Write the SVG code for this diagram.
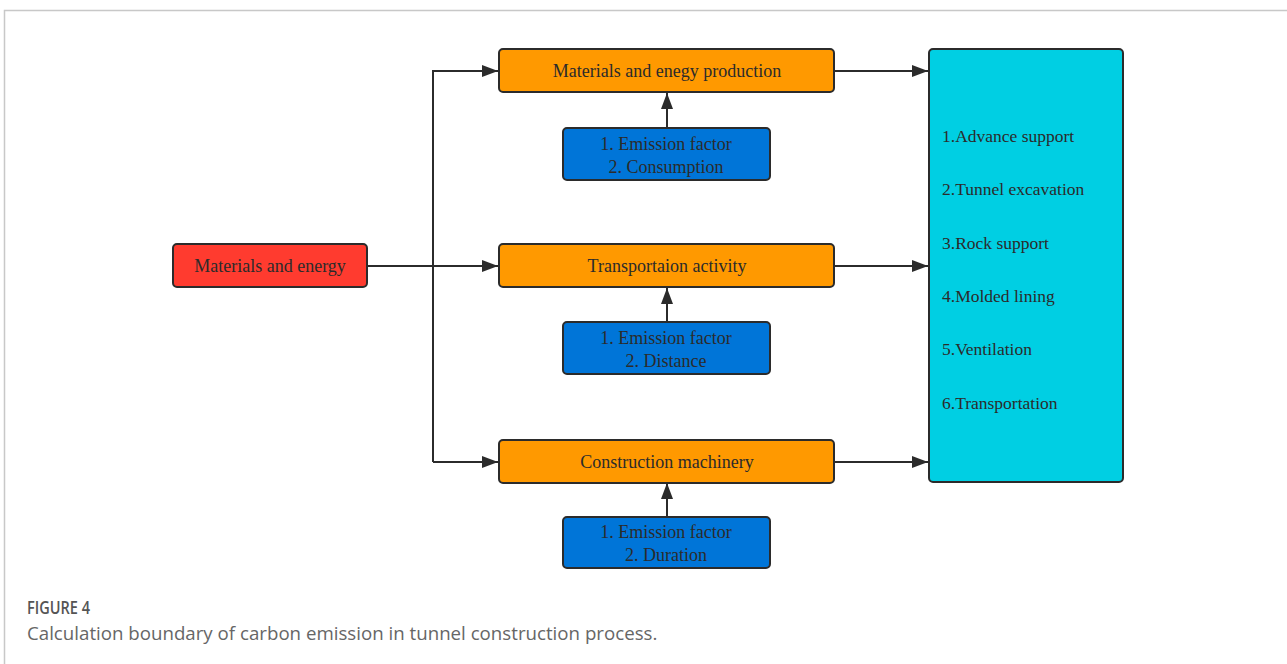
<svg xmlns="http://www.w3.org/2000/svg" width="1287" height="664" viewBox="0 0 1287 664">
<style>
.box{stroke:#2b2b2b;stroke-width:2}
.or{fill:#FF9900}
.bl{fill:#0075D8}
.rd{fill:#FF3B2F}
.cy{fill:#00CFE3}
.t{font-family:"Liberation Serif","Times New Roman",serif;font-size:18px;fill:#2b2b2b;text-anchor:middle}
.tl{font-family:"Liberation Serif","Times New Roman",serif;font-size:17.5px;fill:#2b2b2b}
.ln{stroke:#2b2b2b;stroke-width:2;fill:none}
.cap{font-family:"Open Sans","Noto Sans",sans-serif;font-size:18.7px;fill:#666}
</style>
<defs>
<marker id="ah" markerWidth="16" markerHeight="12" refX="16" refY="6" orient="auto" markerUnits="userSpaceOnUse">
<path d="M0,0 L16,6 L0,12 Z" fill="#2b2b2b"/>
</marker>
</defs>
<rect width="1287" height="664" fill="#fff"/>
<path d="M4.5,664 V10.5 H1287" fill="none" stroke="#c8c8c8" stroke-width="1.5"/>

<g id="connectors">
<path class="ln" d="M367,266 H498" marker-end="url(#ah)"/>
<path class="ln" d="M433,462 V71 H498" marker-end="url(#ah)"/>
<path class="ln" d="M433,462 H498" marker-end="url(#ah)"/>
<path class="ln" d="M834,71 H928" marker-end="url(#ah)"/>
<path class="ln" d="M834,266 H928" marker-end="url(#ah)"/>
<path class="ln" d="M834,462 H928" marker-end="url(#ah)"/>
<path class="ln" d="M667,128 V93" marker-end="url(#ah)"/>
<path class="ln" d="M667,322 V288" marker-end="url(#ah)"/>
<path class="ln" d="M667,517 V483" marker-end="url(#ah)"/>
</g>

<g id="materials-energy">
<rect class="box rd" x="173" y="244" width="194" height="43" rx="4"/>
<text class="t" x="270" y="272">Materials and energy</text>
</g>

<g id="production">
<rect class="box or" x="499" y="49" width="335" height="43" rx="4"/>
<text class="t" x="667" y="77">Materials and enegy production</text>
</g>
<g id="transport">
<rect class="box or" x="499" y="244" width="335" height="43" rx="4"/>
<text class="t" x="667" y="272">Transportaion activity</text>
</g>
<g id="machinery">
<rect class="box or" x="499" y="440" width="335" height="43" rx="4"/>
<text class="t" x="667" y="468">Construction machinery</text>
</g>

<g id="factors-1">
<rect class="box bl" x="563" y="128" width="207" height="52" rx="4"/>
<text class="t" x="666" y="150">1. Emission factor</text>
<text class="t" x="666" y="173">2. Consumption</text>
</g>
<g id="factors-2">
<rect class="box bl" x="563" y="322" width="207" height="52" rx="4"/>
<text class="t" x="666" y="344">1. Emission factor</text>
<text class="t" x="666" y="367">2. Distance</text>
</g>
<g id="factors-3">
<rect class="box bl" x="563" y="517" width="207" height="51" rx="4"/>
<text class="t" x="666" y="538">1. Emission factor</text>
<text class="t" x="666" y="561">2. Duration</text>
</g>

<g id="processes">
<rect class="box cy" x="929" y="49" width="194" height="433" rx="4"/>
<text class="tl" x="942" y="142">1.Advance support</text>
<text class="tl" x="942" y="195">2.Tunnel excavation</text>
<text class="tl" x="942" y="249">3.Rock support</text>
<text class="tl" x="942" y="302">4.Molded lining</text>
<text class="tl" x="942" y="355">5.Ventilation</text>
<text class="tl" x="942" y="409">6.Transportation</text>
</g>

<text class="cap" x="27" y="614" textLength="63" lengthAdjust="spacingAndGlyphs" style="fill:#555;font-weight:600;font-size:18px">FIGURE 4</text>
<text class="cap" x="27" y="640">Calculation boundary of carbon emission in tunnel construction process.</text>
</svg>
